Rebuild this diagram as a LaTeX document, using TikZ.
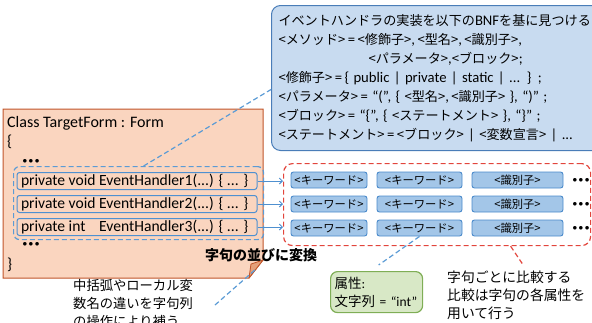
\documentclass[tikz,border=0pt]{standalone}
\usepackage{fontspec}
\setmainfont{Carlito}
\newfontfamily\jp{Noto Sans CJK JP}
\newfontfamily\lt[Scale=1.12]{Carlito}
\usetikzlibrary{arrows.meta,calc}
\definecolor{orFill}{HTML}{FAD5BF}
\definecolor{orLine}{HTML}{C0552A}
\definecolor{orFold}{HTML}{E4A07A}
\definecolor{bnfFill}{HTML}{C8DBF0}
\definecolor{bnfLine}{HTML}{4A7DB8}
\definecolor{keyFill}{HTML}{A3C6E8}
\definecolor{keyLine}{HTML}{4A8ACB}
\definecolor{rowLine}{HTML}{4F90D0}
\definecolor{grpLine}{HTML}{5B9BD5}
\definecolor{redLine}{HTML}{E2453C}
\definecolor{grFill}{HTML}{D8E8C6}
\definecolor{grLine}{HTML}{7FAE56}
\newlength\pvw
\begin{document}
\begin{tikzpicture}[x=1pt,y=-1pt,
 bnfbox/.style={draw=bnfLine, line width=1pt, fill=bnfFill, rounded corners=9pt, anchor=north west,
   inner xsep=7pt, text width=316pt, minimum height=145pt, align=left,
   font=\jp\fontsize{13.1}{19}\selectfont},
 codetext/.style={inner sep=0pt, anchor=west, font=\fontsize{16}{16}\selectfont},
 rowbox/.style={draw=rowLine, line width=1pt, rounded corners=2.5pt, inner sep=0pt,
   minimum width=240pt, minimum height=17pt, font=\fontsize{15.6}{15.6}\selectfont},
 keybox/.style={draw=keyLine, line width=0.9pt, fill=keyFill, rounded corners=2.5pt, inner sep=0pt,
   minimum height=16pt, font=\jp\fontsize{11.3}{11.3}\selectfont},
 dots/.style={inner sep=0pt, font=\fontsize{9}{9}\selectfont},
 bluedash/.style={draw=grpLine, line width=1.2pt, dash pattern=on 5pt off 3pt},
 reddash/.style={draw=redLine, line width=1.2pt, dash pattern=on 5pt off 3pt},
 arr/.style={draw=rowLine, line width=1pt, -{Straight Barb[length=3pt,width=6pt]}},
 jptext/.style={inner sep=0pt, anchor=north west, align=left},
]
\useasboundingbox (0,0) rectangle (592,322);
\clip (0,0) rectangle (592,322);

% BNF box
\node[bnfbox] (bnf) at (271,5) {%
イベントハンドラの実装を以下の{\lt BNF}を基に見つける\\
<メソッド>{\lt\,=\,}<修飾子>{\lt,\,}<型名>{\lt,\,}<識別子>{\lt,}\\
\hspace*{90pt}<パラメータ>{\lt,}<ブロック>{\lt;}\\
<修飾子>{\lt\,=\,\{ public | private | static | ... \} ;}\\
<パラメータ>{\lt\,= “(”, \{ }<型名>{\lt,\,}<識別子>{\lt\ \}, “)” ;}\\
<ブロック>{\lt\,= “\{”, \{ }<ステートメント>{\lt\ \}, “\}” ;}\\
<ステートメント>{\lt\,=\,}<ブロック>{\lt\ | }<変数宣言>{\lt\ | ...}};

% code note with folded corner
\draw[orLine, fill=orFill, line width=1pt] (3,109) -- (263,109) -- (263,260) -- (249,278) -- (3,278) -- cycle;
\draw[orLine, fill=orFold, line width=0.8pt, line join=round] (263,260) -- (251,264) -- (249,278) -- cycle;
\coordinate (fold) at (256,269);

\node[codetext] (cls) at (7,123) {Class TargetForm : Form};
\node[codetext] (ob) at (7,142) {\{};
\node[dots] (dd1) at (31,161) {${\bullet}\,{\bullet}\,{\bullet}$};

\node[draw=grpLine, line width=1.2pt, dash pattern=on 5pt off 3pt, rounded corners=6pt, minimum width=250pt,
  minimum height=73pt, anchor=north west] (grp) at (13,166) {};

\node[rowbox] (r1) at (137,181) {\makebox[232pt][l]{private void EventHandler1(...) \{ ... \}}};
\node[rowbox] (r2) at (137,204) {\makebox[232pt][l]{private void EventHandler2(...) \{ ... \}}};
\node[rowbox] (r3) at (137,227) {\makebox[232pt][l]{\settowidth{\pvw}{private void }\makebox[\pvw][l]{private int}EventHandler3(...) \{ ... \}}};

\node[dots] (dd2) at (31,244) {${\bullet}\,{\bullet}\,{\bullet}$};
\node[codetext] (cb) at (7,265) {\}};

% token region
\node[draw=redLine, line width=1.2pt, dash pattern=on 5pt off 3pt, rounded corners=9pt, minimum width=307pt,
  minimum height=82pt, anchor=north west] (red) at (283,163) {};

\foreach \r/\y in {1/180,2/204,3/228}{
  \node[keybox, minimum width=76pt] (k\r1) at (329,\y) {<キーワード>};
  \node[keybox, minimum width=85pt] (k\r2) at (419.5,\y) {<キーワード>};
  \node[keybox, minimum width=91pt] (k\r3) at (517.5,\y) {<識別子>};
  \node[dots] (kd\r) at (581,\y) {${\bullet}\,{\bullet}\,{\bullet}$};
}

\draw[arr] (r1.east) -- (r1.east -| red.west);
\draw[arr] (r2.east) -- (r2.east -| red.west);
\draw[arr] (r3.east) -- (r3.east -| red.west);

\node[jptext, anchor=west, font=\jp\bfseries\fontsize{14}{14}\selectfont] (conv) at (205,255) {字句の並びに変換};

\node[jptext, font=\jp\fontsize{13.3}{18}\selectfont] (note) at (73,279.5) {中括弧やローカル変\\数名の違いを字句列\\の操作により補う};
\node[jptext, font=\jp\fontsize{13.8}{18}\selectfont] (cmp) at (447,270.5) {字句ごとに比較する\\比較は字句の各属性を\\用いて行う};

\node[draw=grLine, fill=grFill, line width=1.2pt, rounded corners=7pt, anchor=north west, minimum width=92pt,
  minimum height=41pt, text width=84pt, inner xsep=4pt, align=left, font=\fontsize{13.5}{18}\selectfont]
  (attr) at (330,271) {{\jp 属性}:\\{\jp 文字列} = “int”};

% connectors
\coordinate (nt) at (215,305);
\draw[bluedash] ([xshift=5pt]grp.north) -- ([yshift=-11.5pt]bnf.west);
\draw[bluedash] (nt) -- (fold);
\draw[bluedash] (k32.south) -- ([xshift=2pt,yshift=6pt]attr.north);
\draw[reddash] ([xshift=73.5pt]red.south) -- ([xshift=6pt,yshift=7pt]cmp.north);
\end{tikzpicture}
\end{document}
